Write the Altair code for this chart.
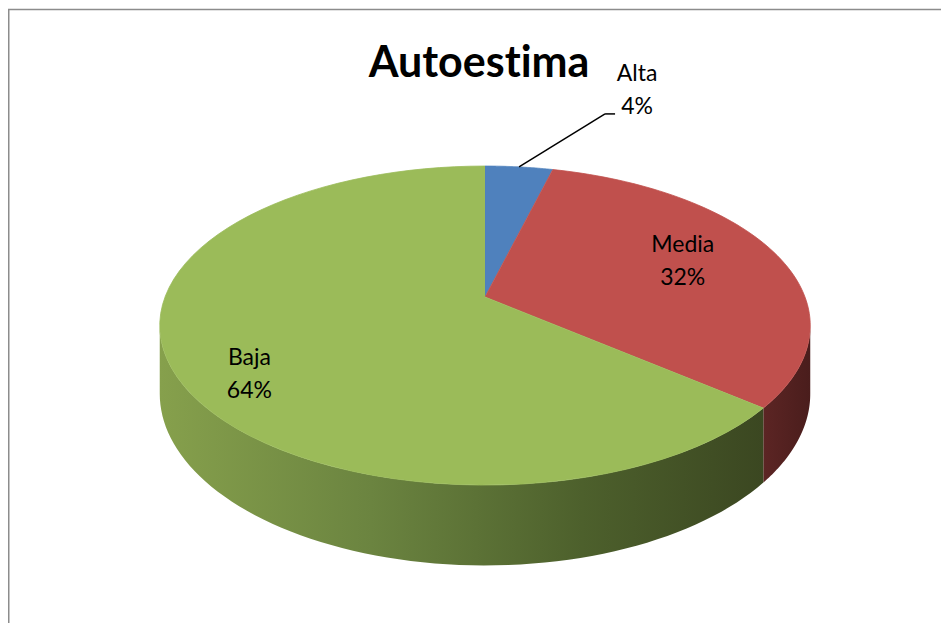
import altair as alt
import pandas as pd

# ---- data ----
categories = ["Alta", "Media", "Baja"]
values = [4, 32, 64]
order = [0, 1, 2]

top_colors = ["#4F81BD", "#C0504D", "#9BBB59"]

# ---- layout / geometry (plot pixel units) ----
W, H = 933, 615
CX, CY = 477, 289          # pie centre
RX, RY = 320, 154.4        # radii of projected disc
K = 0.179                  # perspective factor
DEPTH = 66                 # thickness
N = 72                     # arc resolution
TR = 1.7508                # right silhouette angle (acos(-K))
TL = 6.283185307 - TR      # left silhouette angle

df = pd.DataFrame({"cat": categories, "value": values, "order": order})

xs = alt.X("px:Q", scale=alt.Scale(domain=[0, W], nice=False, zero=False), axis=None)
ys = alt.Y("py:Q", scale=alt.Scale(domain=[0, H], reverse=True, nice=False, zero=False), axis=None)


def slices():
    return (
        alt.Chart(df)
        .transform_window(cum="sum(value)", sort=[alt.SortField("order")], frame=[None, 0])
        .transform_joinaggregate(total="sum(value)")
        .transform_calculate(start="2*PI*(datum.cum - datum.value)/datum.total")
        .transform_calculate(end="2*PI*datum.cum/datum.total")
        .transform_calculate(mid="(datum.start + datum.end)/2")
    )


# ---- side walls ----
def side(cat, fill):
    return (
        slices()
        .transform_filter(alt.datum.cat == cat)
        .transform_calculate(s2=f"max(datum.start, {TR})")
        .transform_calculate(e2=f"min(datum.end, {TL})")
        .transform_filter("datum.s2 < datum.e2")
        .transform_calculate(idx=f"sequence(0, {2 * N + 2})")
        .transform_flatten(["idx"])
        .transform_calculate(j=f"datum.idx <= {N} ? datum.idx : {2 * N + 1} - datum.idx")
        .transform_calculate(a=f"datum.s2 + datum.j/{N}*(datum.e2 - datum.s2)")
        .transform_calculate(den=f"1 + {K}*cos(datum.a)")
        .transform_calculate(px=f"{CX} + {RX}*sin(datum.a)/datum.den")
        .transform_calculate(
            py=f"{CY} - {RY}*cos(datum.a)/datum.den + (datum.idx > {N} ? {DEPTH}/datum.den : 0)"
        )
        .mark_line(filled=True, fill=fill, strokeWidth=0)
        .encode(x=xs, y=ys, order="idx:Q")
    )


media_side = side(
    "Media",
    alt.LinearGradient(
        gradient="linear", x1=0, x2=1, y1=0, y2=0,
        stops=[alt.GradientStop(color="#5c2524", offset=0),
               alt.GradientStop(color="#4a1d1c", offset=1)],
    ),
)
baja_side = side(
    "Baja",
    alt.LinearGradient(
        gradient="linear", x1=0, x2=1, y1=0, y2=0,
        stops=[alt.GradientStop(color="#86a04c", offset=0),
               alt.GradientStop(color="#6b8440", offset=0.35),
               alt.GradientStop(color="#4d602c", offset=0.7),
               alt.GradientStop(color="#3b4721", offset=1)],
    ),
)

# ---- top faces ----
top = (
    slices()
    .transform_calculate(idx=f"sequence(0, {N + 2})")
    .transform_flatten(["idx"])
    .transform_calculate(a=f"datum.start + (datum.idx - 1)/{N}*(datum.end - datum.start)")
    .transform_calculate(den=f"1 + {K}*cos(datum.a)")
    .transform_calculate(px=f"datum.idx == 0 ? {CX} : {CX} + {RX}*sin(datum.a)/datum.den")
    .transform_calculate(py=f"datum.idx == 0 ? {CY} : {CY} - {RY}*cos(datum.a)/datum.den")
    .mark_line(filled=True, strokeWidth=0.8)
    .encode(
        x=xs, y=ys, order="idx:Q", detail="cat:N",
        fill=alt.Fill("cat:N", scale=alt.Scale(domain=categories, range=top_colors), legend=None),
        stroke=alt.Stroke("cat:N", scale=alt.Scale(domain=categories, range=top_colors), legend=None),
    )
)


# ---- labels ----
def label_base(r):
    return (
        slices()
        .transform_calculate(den=f"1 + {K}*{r}*cos(datum.mid)")
        .transform_calculate(px=f"{CX} + {RX}*{r}*sin(datum.mid)/datum.den")
        .transform_calculate(py=f"{CY} - {RY}*{r}*cos(datum.mid)/datum.den")
        .transform_calculate(lab="datum.cat + '\\n' + format(datum.value/datum.total, '.0%')")
    )


txt = dict(font="Lato", fontSize=23, lineHeight=33, align="center",
           baseline="alphabetic", lineBreak="\n", color="#000000")

media_lab = (label_base(0.72).transform_filter(alt.datum.cat == "Media")
             .mark_text(dx=-13, dy=-12, **txt).encode(x=xs, y=ys, text="lab:N"))
baja_lab = (label_base(0.72).transform_filter(alt.datum.cat == "Baja")
            .mark_text(dx=-15, dy=18, **txt).encode(x=xs, y=ys, text="lab:N"))
alta_lab = (label_base(1.0).transform_filter(alt.datum.cat == "Alta")
            .mark_text(dx=118, dy=-86, **txt).encode(x=xs, y=ys, text="lab:N"))

alta_anchor = label_base(1.0).transform_filter(alt.datum.cat == "Alta")
leader1 = (alta_anchor
           .transform_calculate(px2="datum.px + 86", py2="datum.py - 53")
           .mark_rule(color="#000000", strokeWidth=1.5)
           .encode(x=xs, y=ys, x2="px2:Q", y2="py2:Q"))
leader2 = (alta_anchor
           .transform_calculate(qx="datum.px + 86", qy="datum.py - 53", qx2="datum.px + 96")
           .mark_rule(color="#000000", strokeWidth=1.5)
           .encode(x=alt.X("qx:Q", scale=alt.Scale(domain=[0, W], nice=False, zero=False), axis=None),
                   y=alt.Y("qy:Q", scale=alt.Scale(domain=[0, H], reverse=True, nice=False, zero=False), axis=None),
                   x2="qx2:Q"))

# ---- title (zero-width non-joiner keeps Lato from forming the "ti" ligature) ----
title = (alt.Chart(pd.DataFrame({"t": ["Autoest\u200cima"]}))
         .mark_text(font="Lato", fontSize=43, fontWeight="bold", align="center",
                    baseline="alphabetic", color="#000000")
         .encode(text="t:N", x=alt.value(471), y=alt.value(69)))

# ---- frame ----
frame_top = (alt.Chart(pd.DataFrame({"a": [0]}))
             .mark_rule(color="#8c8c8c", strokeWidth=1.5)
             .encode(x=alt.value(0), x2=alt.value(W), y=alt.value(1.5)))
frame_left = (alt.Chart(pd.DataFrame({"a": [0]}))
              .mark_rule(color="#8c8c8c", strokeWidth=1.5)
              .encode(x=alt.value(0.75), y=alt.value(1.5), y2=alt.value(H)))

chart = (
    alt.layer(media_side, baja_side, top, media_lab, baja_lab, leader1, leader2, alta_lab,
              title, frame_top, frame_left)
    .properties(width=W, height=H, autosize="none", padding=0, background="#ffffff")
    .configure_view(stroke="transparent")
)

chart.save("out.html", embed_options={"renderer": "svg", "actions": False})
